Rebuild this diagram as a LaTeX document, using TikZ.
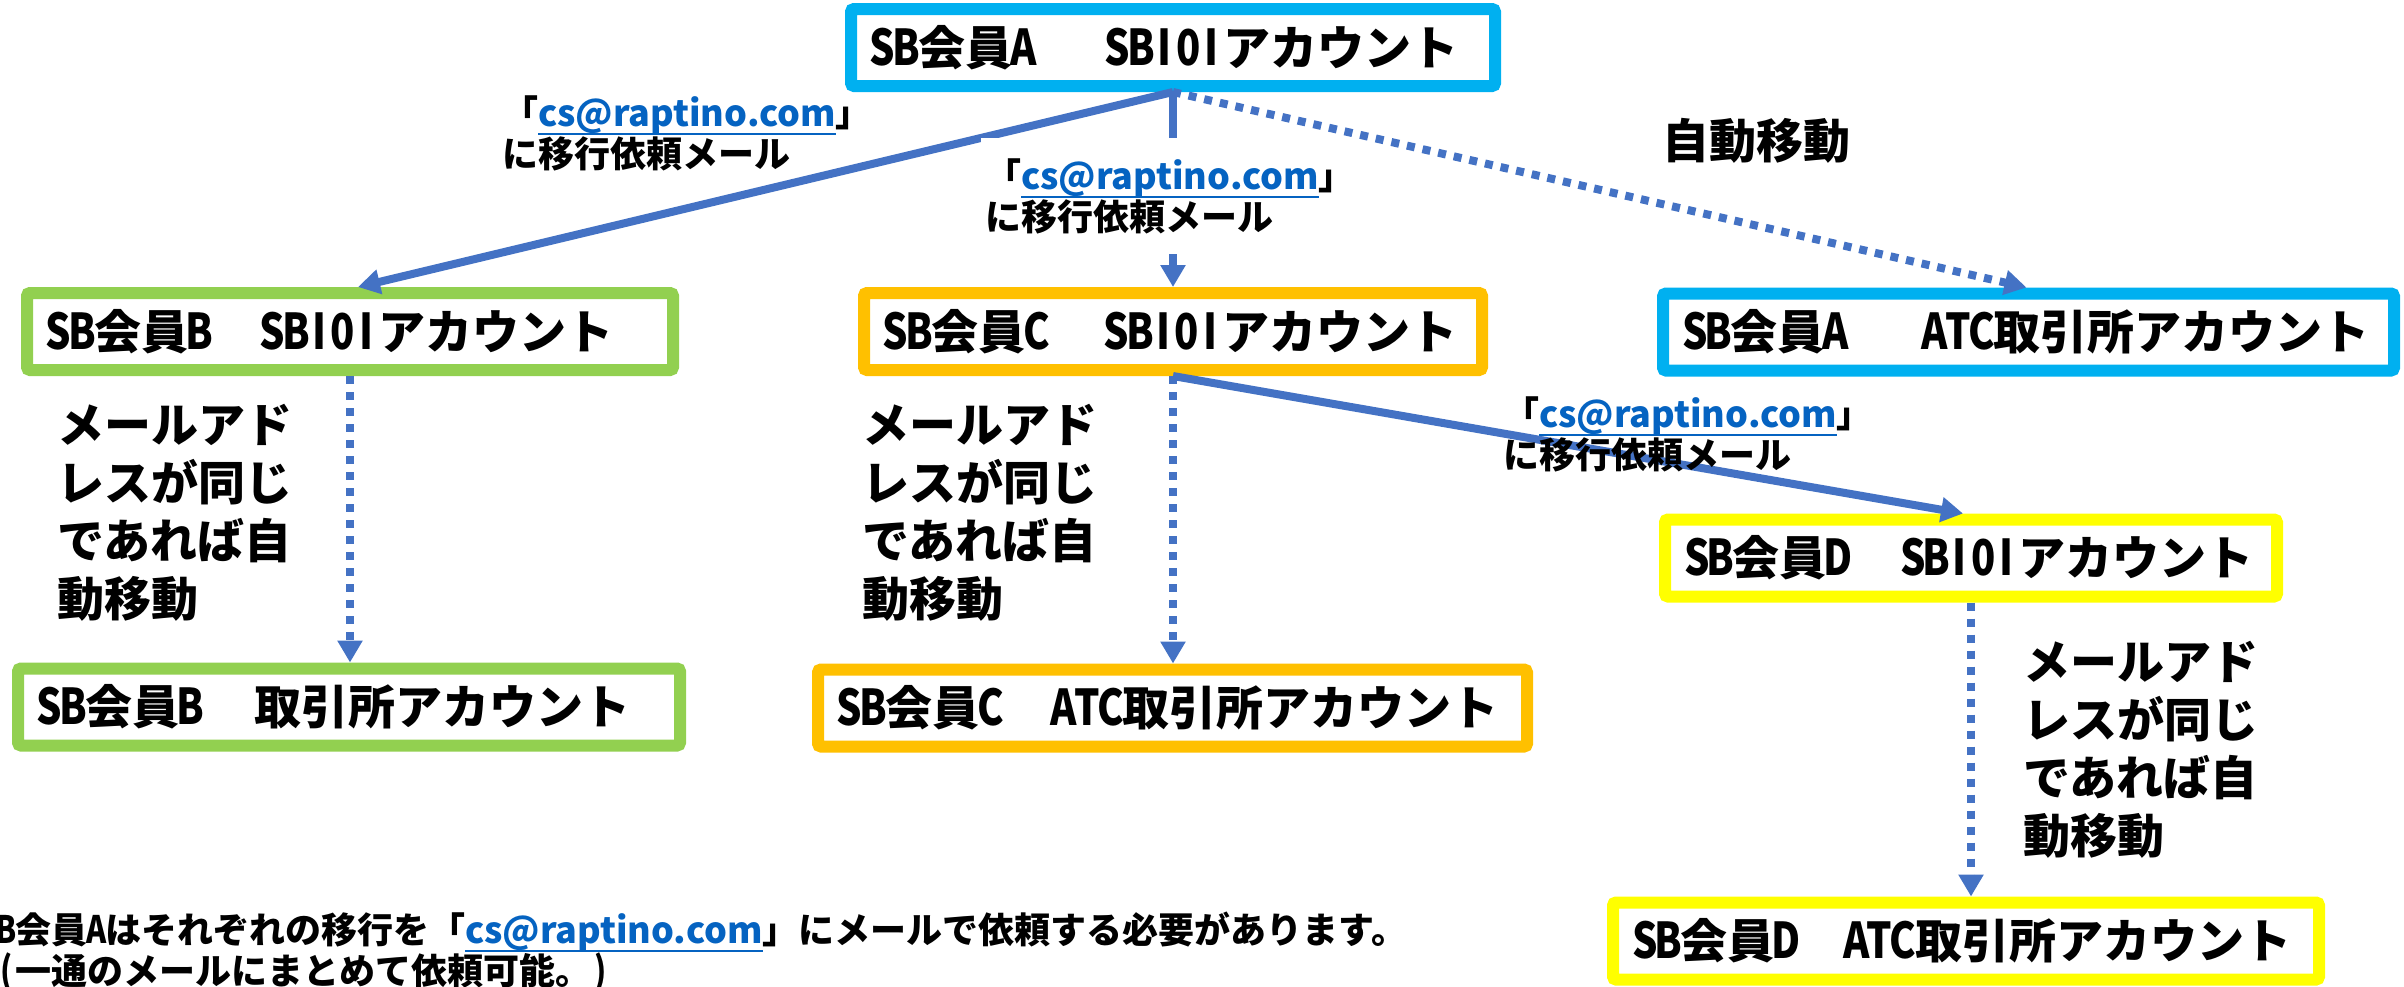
\documentclass[tikz,border=0pt]{standalone}
\usepackage{fontspec}
\setmainfont{Noto Sans CJK JP}
\usepackage{graphicx}
\usetikzlibrary{arrows.meta,calc}
\definecolor{cyanb}{HTML}{00B0F0}
\definecolor{greenb}{HTML}{92D050}
\definecolor{orangeb}{HTML}{FFC000}
\definecolor{yellowb}{HTML}{FFFF00}
\definecolor{arrowc}{HTML}{4472C4}
\definecolor{linkc}{HTML}{0563C1}
\newcommand\bigf{\fontsize{47pt}{58pt}\selectfont\bfseries}
\newcommand\midf{\fontsize{36pt}{41pt}\selectfont\bfseries}
\makeatletter
\newcommand\hw[1]{\hw@i#1\@nil}
\def\hw@i#1{\ifx#1\@nil\else\makebox[0.5em]{\scalebox{0.85}[1.05]{#1}}\expandafter\hw@i\fi}
\makeatother
\newcommand\mail{{\color{linkc}\setbox0=\hbox{cs@raptino.com}\rlap{\rule[-0.24em]{\wd0}{0.06em}}\box0}}
\begin{document}
\begin{tikzpicture}[x=1pt,y=-1pt,
  acct/.style={draw, line width=12pt, fill=white, rounded corners=3pt, inner xsep=20pt, inner ysep=0pt, minimum height=77pt, align=left, font=\bigf, anchor=center},
  flow/.style={draw=arrowc, line width=8pt, -{Triangle[length=22pt,width=24pt]}},
  dots/.style={flow, dash pattern=on 8pt off 8pt},
  lbl/.style={inner sep=0pt, align=left, font=\midf, anchor=west},
  note/.style={inner sep=0pt, align=left, font=\bigf, anchor=west}]
\useasboundingbox (0,0) rectangle (2404,986);
\fill[white] (0,0) rectangle (2404,986);
% boxes
\node[acct, draw=cyanb, text width=604pt] (bA) at (1173,47.5) {\hw{SB}会員\hw{A}\hspace{1.5em}\hw{SBI0I}アカウント};
\node[acct, draw=greenb, text width=606pt] (bB) at (350,331.5) {\hw{SB}会員\hw{B}\hspace{1.05em}\hw{SBI0I}アカウント};
\node[acct, draw=orangeb, text width=578pt] (bC) at (1173,331.5) {\hw{SB}会員\hw{C}\hspace{1.2em}\hw{SBI0I}アカウント};
\node[acct, draw=cyanb, text width=691pt] (bAA) at (2028.5,332) {\hw{SB}会員\hw{A}\hspace{1.6em}\hw{ATC}取引所アカウント};
\node[acct, draw=yellowb, text width=572pt] (bD) at (1971,558) {\hw{SB}会員\hw{D}\hspace{1.1em}\hw{SBI0I}アカウント};
\node[acct, draw=greenb, text width=622pt] (bBX) at (349,707) {\hw{SB}会員\hw{B}\hspace{1.1em}取引所アカウント};
\node[acct, draw=orangeb, text width=669pt] (bCX) at (1172.5,708) {\hw{SB}会員\hw{C}\hspace{1.05em}\hw{ATC}取引所アカウント};
\node[acct, draw=yellowb, text width=666pt] (bDX) at (1966,941) {\hw{SB}会員\hw{D}\hspace{1.0em}\hw{ATC}取引所アカウント};
% connectors
\draw[flow] (bA.south) -- ($(bB.north)+(8,0)$);
\draw[flow] (bA.south) -- (bC.north);
\draw[dots] (bA.south) -- ($(bAA.north)+(-2,0)$);
\draw[dots] (bB.south) -- (bB.south |- bBX.north);
\draw[dots] (bC.south) -- (bC.south |- bCX.north);
\draw[flow] (bC.south) -- ($(bD.north)+(-8,0)$);
\draw[dots] (bD.south) -- (bD.south |- bDX.north);
% labels
\node[lbl] (l1) at (502,133.5) {「\mail」\\に移行依頼メール};
\node[lbl, fill=white, inner xsep=4pt, inner ysep=20pt] (l2) at (981,196) {「\mail」\\に移行依頼メール};
\node[lbl] (l3) at (1503,434.5) {「\mail」\\に移行依頼メール};
\node[note, anchor=center] (auto) at (1756,141) {自動移動};
\node[note] (sB) at (57,513) {メールアド\\レスが同じ\\であれば自\\動移動};
\node[note] (sC) at (862,513) {メールアド\\レスが同じ\\であれば自\\動移動};
\node[note] (sD) at (2023,750) {メールアド\\レスが同じ\\であれば自\\動移動};
\node[lbl] (foot) at (-3,952) {\hw{B}会員\hw{A}はそれぞれの移行を「\mail」にメールで依頼する必要があります。\\\hw{(}一通のメールにまとめて依頼可能。\hw{)}};
\end{tikzpicture}
\end{document}
